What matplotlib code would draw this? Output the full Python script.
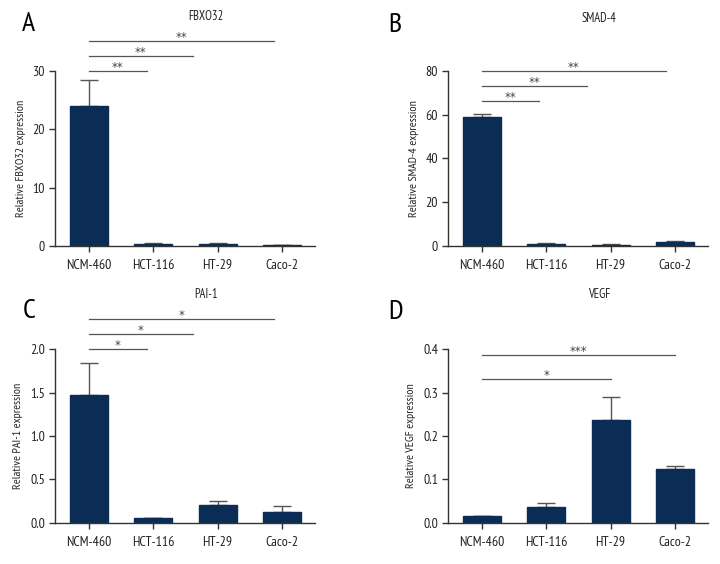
import matplotlib
matplotlib.use("Agg")
import matplotlib.pyplot as plt

plt.rcParams['font.family'] = ['PT Sans Narrow', 'DejaVu Sans']

cells = ["NCM-460", "HCT-116", "HT-29", "Caco-2"]

# mean values and upper error (mean + sd)
fbxo32 = [24.0, 0.4, 0.4, 0.2]
fbxo32_err = [4.5, 0.05, 0.05, 0.03]
smad4 = [59.0, 1.0, 0.5, 2.0]
smad4_err = [1.5, 0.2, 0.2, 0.2]
pai1 = [1.47, 0.06, 0.20, 0.12]
pai1_err = [0.37, 0.0, 0.05, 0.07]
vegf = [0.015, 0.036, 0.237, 0.123]
vegf_err = [0.001, 0.009, 0.052, 0.008]

# significance brackets: (start, end, height, label)
sig_a = [(0, 0.9, 30.0, "**"), (0, 1.62, 32.6, "**"), (0, 2.87, 35.1, "**")]
sig_b = [(0, 0.89, 66.3, "**"), (0, 1.63, 73.1, "**"), (0, 2.86, 80.0, "**")]
sig_c = [(0, 0.9, 2.0, "*"), (0, 1.62, 2.17, "*"), (0, 2.87, 2.35, "*")]
sig_d = [(0, 2, 0.331, "*"), (0, 3, 0.386, "***")]

panels = [
    ("A", "FBXO32", "Relative FBXO32 expression", fbxo32, fbxo32_err, sig_a, [0, 10, 20, 30], "{:.0f}"),
    ("B", "SMAD-4", "Relative SMAD-4 expression", smad4, smad4_err, sig_b, [0, 20, 40, 60, 80], "{:.0f}"),
    ("C", "PAI-1", "Relative PAI-1 expression", pai1, pai1_err, sig_c, [0, 0.5, 1.0, 1.5, 2.0], "{:.1f}"),
    ("D", "VEGF", "Relative VEGF expression", vegf, vegf_err, sig_d, [0, 0.1, 0.2, 0.3, 0.4], "{:.1f}"),
]

positions = [
    [0.076, 0.564, 0.362, 0.310],
    [0.622, 0.564, 0.362, 0.310],
    [0.076, 0.073, 0.362, 0.308],
    [0.622, 0.073, 0.362, 0.308],
]
letter_pos = [(0.040, 0.957), (0.549, 0.956), (0.040, 0.449), (0.549, 0.447)]
title_y = [0.970, 0.968, 0.477, 0.477]

bar_color = "#0b2c55"
line_color = "#555555"

fig = plt.figure(figsize=(7.2, 5.64), dpi=100)

for (letter, title, ylabel, vals, errs, sigs, ticks, fmt), pos, lp, ty in zip(panels, positions, letter_pos, title_y):
    ax = fig.add_axes(pos)
    x = list(range(len(cells)))
    ax.bar(x, vals, width=0.59, color=bar_color, edgecolor=bar_color, zorder=2)
    ax.errorbar(x, vals, yerr=[[0] * len(errs), errs], fmt="none",
                ecolor=line_color, elinewidth=1.0, capsize=6.5, capthick=1.0, zorder=1)
    top = ticks[-1]
    ax.set_ylim(0, top)
    ax.set_xlim(-0.53, 3.52)
    ax.set_yticks(ticks)
    ax.set_yticklabels([fmt.format(t) for t in ticks])
    ax.set_xticks(x)
    ax.set_xticklabels(cells)
    for s in ["top", "right"]:
        ax.spines[s].set_visible(False)
    for s in ["left", "bottom"]:
        ax.spines[s].set_color("#333333")
        ax.spines[s].set_linewidth(1.0)
    ax.tick_params(axis="both", labelsize=10, length=4.5, color="#333333", width=1.0, pad=2.5,
                   labelcolor="#222222")
    ax.tick_params(axis="x", pad=5)
    ax.set_ylabel(ylabel, fontsize=8.6, labelpad=5, color="#222222")
    for x0, x1, h, lab in sigs:
        ax.plot([x0, x1], [h, h], color=line_color, lw=0.9, clip_on=False)
        ax.text((x0 + x1) / 2, h, lab, ha="center", va="baseline", family="DejaVu Sans",
                fontsize=8.5, color="#444444", clip_on=False)
    fig.text(pos[0] + pos[2] * 0.58, ty, title, ha="center", va="center", fontsize=9,
             color="#222222")
    fig.text(lp[0], lp[1], letter, ha="center", va="center", fontsize=20)

fig.savefig("out.png", dpi=100)
